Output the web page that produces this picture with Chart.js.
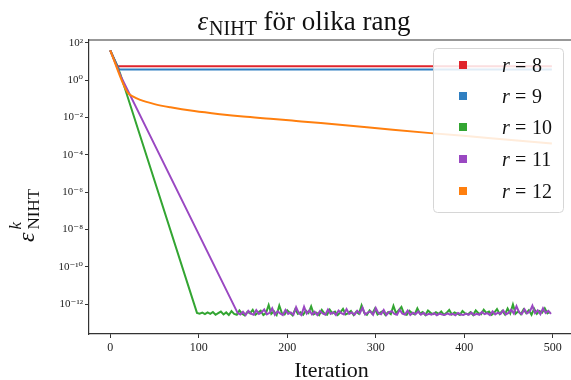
<!DOCTYPE html>
<html>
<head>
<meta charset="utf-8">
<script src="https://cdn.jsdelivr.net/npm/chart.js@4.4.0/dist/chart.umd.min.js"></script>
<style>
  html, body { margin: 0; padding: 0; background: #fff; overflow: hidden; }
  #wrap { width: 580px; height: 380px; }
</style>
</head>
<body>
<div id="wrap"><canvas id="c" width="580" height="380"></canvas></div>
<script>
const rankLabels = ['8', '9', '10', '11', '12'];
const colors = ['#e0242c', '#2f7fc1', '#33a532', '#9a48c2', '#ff7f0e'];

const xTicks = [0, 100, 200, 300, 400, 500];
const yTickExps = [2, 0, -2, -4, -6, -8, -10, -12];

// r = 8 och r = 9 fastnar direkt
const r8Iter = [0, 8, 499];
const r8Vals = [39, 5.5, 5.5];
const r9Iter = [0, 10, 499];
const r9Vals = [39, 3.7, 3.7];

// r = 10 och r = 11: linjärt fall (i log) ner till brusgolvet
const r10Iter = [0, 11];
const r10Vals = [39, 2.4];
const r11Iter = [0, 12];
const r11Vals = [39, 1.6];

// brusgolv, avläst var 3:e iteration, enhet 1e-13
const noiseStep = 3;
const r10NoiseStart = 98;
const r10Noise = [
  3.4, 3.1, 3.5, 2.9, 3.6, 3.0, 3.8, 2.7, 3.3, 4.0,
  2.8, 3.6, 2.6, 4.2, 3.0, 2.7, 4.6, 3.1, 2.5, 3.9,
  3.2, 5.0, 2.7, 3.5, 4.4, 2.6, 3.3, 9.0, 3.0, 4.1,
  2.6, 8.4, 3.2, 2.8, 4.7, 3.4, 2.5, 5.3, 3.0, 3.7,
  2.7, 4.5, 3.3, 7.6, 2.9, 3.5, 2.6, 4.9, 3.1, 2.7,
  5.1, 3.2, 4.0, 2.6, 3.6, 5.5, 2.8, 3.3, 4.3, 2.6,
  3.9, 3.0, 8.6, 3.4, 2.7, 4.6, 3.1, 5.7, 2.8, 3.5,
  4.2, 2.6, 3.7, 2.9, 8.1, 3.2, 4.8, 7.0, 3.0, 2.7,
  4.4, 3.3, 2.8, 5.9, 3.1, 3.8, 2.6, 4.5, 3.4, 2.9,
  3.7, 3.0, 4.1, 2.7, 3.4, 4.9, 2.8, 3.6, 3.1, 2.6,
  4.3, 3.2, 2.8, 3.7, 2.6, 4.6, 3.3, 2.9, 5.0, 3.4,
  4.0, 2.7, 3.5, 5.4, 3.0, 4.4, 2.8, 5.8, 3.2, 9.6,
  3.1, 4.2, 2.9, 5.2, 3.3, 4.7, 2.7, 5.6, 3.0, 4.3,
  3.5, 6.0, 3.2, 4.0
];
const r11NoiseStart = 144;
const r11Noise = [
  3.3, 2.8, 3.9, 2.6, 4.4, 3.1, 2.7, 4.8, 3.0, 3.6,
  5.2, 2.8, 3.4, 6.0, 2.7, 4.1, 3.2, 2.6, 4.9, 3.0,
  3.6, 2.7, 6.8, 3.3, 2.6, 7.2, 3.1, 4.6, 2.8, 3.9,
  2.6, 4.3, 3.2, 2.7, 5.1, 3.0, 3.7, 2.6, 4.5, 3.3,
  2.8, 5.4, 3.0, 3.6, 2.7, 4.4, 3.2, 6.5, 2.8, 3.5,
  4.1, 2.7, 6.3, 3.3, 2.9, 4.8, 2.6, 3.7, 4.2, 3.0,
  2.7, 5.0, 3.1, 2.8, 4.5, 2.6, 3.5, 2.9, 4.0, 2.7,
  3.4, 2.6, 3.0, 2.7, 3.3, 2.5, 3.1, 2.8, 2.6, 3.2,
  2.7, 3.0, 2.5, 3.4, 2.8, 2.6, 3.1, 2.7, 3.5, 2.6,
  3.0, 2.7, 3.8, 2.9, 3.3, 2.6, 4.1, 2.8, 3.5, 3.0,
  4.6, 2.8, 3.4, 5.0, 3.1, 7.8, 3.6, 2.9, 5.3, 3.2,
  4.0, 8.2, 3.3, 4.7, 2.9, 6.1, 3.4, 4.4, 3.0
];

// r = 12 avtar långsamt
const r12Iter = [0, 19, 26, 34, 50, 68, 95, 124, 150, 181, 210, 238, 290, 362, 430, 499];
const r12Vals = [39, 0.24, 0.13, 0.087, 0.052, 0.035, 0.022, 0.015, 0.0112, 0.0085,
  0.0065, 0.005, 0.003, 0.00145, 0.00078, 0.0004];

const SERIF = '"Liberation Serif", "DejaVu Serif", serif';
const SUP = { '0': '⁰', '1': '¹', '2': '²', '3': '³', '4': '⁴', '5': '⁵', '6': '⁶', '7': '⁷', '8': '⁸', '9': '⁹', '-': '⁻' };

function pts(iters, vals) {
  return iters.map((x, i) => ({ x, y: vals[i] }));
}
function noisePts(start, vals) {
  return vals.map((v, i) => ({ x: start + i * noiseStep, y: v * 1e-13 }));
}

const seriesData = [
  pts(r8Iter, r8Vals),
  pts(r9Iter, r9Vals),
  pts(r10Iter, r10Vals).concat(noisePts(r10NoiseStart, r10Noise)),
  pts(r11Iter, r11Vals).concat(noisePts(r11NoiseStart, r11Noise)),
  pts(r12Iter, r12Vals),
];

const datasets = seriesData.map((d, i) => ({
  label: 'r = ' + rankLabels[i],
  data: d,
  borderColor: colors[i],
  backgroundColor: colors[i],
  borderWidth: 2,
  pointRadius: 0,
  tension: 0,
  cubicInterpolationMode: i === 4 ? 'monotone' : 'default',
  order: 4 - i, // som matplotlib: senare serie överst
}));

const decor = {
  id: 'decor',
  afterDraw(chart) {
    const { ctx, chartArea: a } = chart;
    ctx.save();
    // övre ram
    ctx.strokeStyle = '#333';
    ctx.lineWidth = 1.2;
    ctx.beginPath();
    ctx.moveTo(a.left, a.top);
    ctx.lineTo(a.right, a.top);
    ctx.stroke();

    ctx.fillStyle = '#111';
    ctx.textBaseline = 'alphabetic';

    // titel: ε_NIHT för olika rang
    const fBig = 'italic 27px ' + SERIF;
    const fSub = '20px ' + SERIF;
    const fMain = '27px ' + SERIF;
    ctx.font = fBig; const wE = ctx.measureText('ε').width;
    ctx.font = fSub; const wS = ctx.measureText('NIHT').width;
    ctx.font = fMain; const wM = ctx.measureText(' för olika rang').width;
    let x = 304 - (wE + 1 + wS + wM) / 2;
    ctx.textAlign = 'left';
    ctx.font = fBig; ctx.fillText('ε', x, 30); x += wE + 1;
    ctx.font = fSub; ctx.fillText('NIHT', x, 35); x += wS;
    ctx.font = fMain; ctx.fillText(' för olika rang', x, 30);

    // x-etikett
    ctx.textAlign = 'center';
    ctx.font = '22px ' + SERIF;
    ctx.fillText('Iteration', (a.left + a.right) / 2, 377);
    ctx.textAlign = 'left';

    // y-etikett: ε^k_NIHT
    ctx.save();
    ctx.translate(34, 242);
    ctx.rotate(-Math.PI / 2);
    ctx.font = 'italic 24px ' + SERIF;
    const we = ctx.measureText('ε').width;
    ctx.fillText('ε', 0, 0);
    ctx.font = '17px ' + SERIF;
    ctx.fillText('NIHT', we + 3, 5);
    ctx.font = 'italic 17px ' + SERIF;
    ctx.fillText('k', we + 3, -13);
    ctx.restore();

    // legend
    const bx = 433, by = 48, bw = 130, bh = 164;
    ctx.fillStyle = 'rgba(255,255,255,0.85)';
    ctx.strokeStyle = '#d6d6d6';
    ctx.lineWidth = 1;
    ctx.beginPath();
    ctx.roundRect(bx + 0.5, by + 0.5, bw, bh, 4);
    ctx.fill();
    ctx.stroke();
    const rows = [65, 96, 127, 159, 191];
    chart.data.datasets.forEach((ds, i) => {
      const yc = rows[i];
      ctx.fillStyle = ds.borderColor;
      ctx.fillRect(459, yc - 4, 8, 8);
      ctx.fillStyle = '#111';
      ctx.font = 'italic 20px ' + SERIF;
      ctx.fillText('r', 502, yc + 7);
      ctx.font = '20px ' + SERIF;
      ctx.fillText('=', 515, yc + 7);
      ctx.fillText(rankLabels[i], 532, yc + 7);
    });
    ctx.restore();
  }
};

new Chart(document.getElementById('c'), {
  type: 'line',
  data: { datasets },
  options: {
    responsive: false,
    animation: false,
    layout: { padding: { top: 40, right: 6, left: 0, bottom: 0 } },
    plugins: { legend: { display: false }, tooltip: { enabled: false }, title: { display: false } },
    scales: {
      x: {
        type: 'linear',
        min: -24,
        max: 524,
        afterBuildTicks: (s) => { s.ticks = xTicks.map((v) => ({ value: v })); },
        afterFit: (s) => { s.height = 46; },
        grid: { drawOnChartArea: false, drawTicks: true, tickLength: 4, color: '#333', lineWidth: 1 },
        border: { display: true, color: '#333', width: 1.2 },
        ticks: { color: '#222', padding: 3, maxRotation: 0, font: { family: SERIF, size: 12 } },
      },
      y: {
        type: 'logarithmic',
        min: Math.pow(10, -13.6),
        max: Math.pow(10, 2.15),
        afterBuildTicks: (s) => { s.ticks = yTickExps.map((e) => ({ value: Math.pow(10, e) })); },
        afterFit: (s) => { s.width = 89; },
        grid: { drawOnChartArea: false, drawTicks: true, tickLength: 4, color: '#333', lineWidth: 1 },
        border: { display: true, color: '#333', width: 1.2 },
        ticks: {
          color: '#222',
          padding: 2,
          font: { family: SERIF, size: 11 },
          callback: (v) => {
            const e = Math.round(Math.log10(v));
            return '10' + String(e).split('').map((c) => SUP[c]).join('');
          },
        },
      },
    },
  },
  plugins: [decor],
});
</script>
</body>
</html>
